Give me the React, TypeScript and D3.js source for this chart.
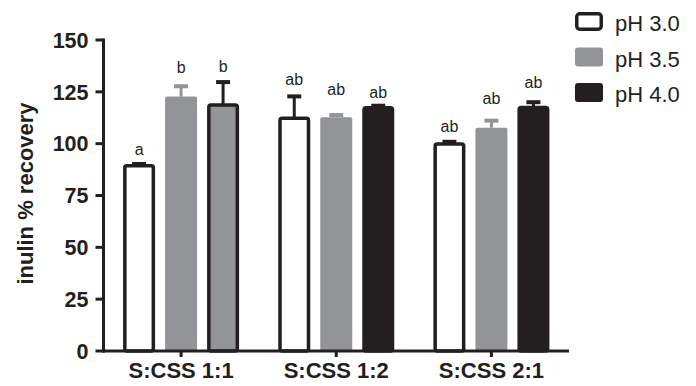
import React from "react";
import * as d3 from "d3";

const groups = ["S:CSS 1:1", "S:CSS 1:2", "S:CSS 2:1"];
const seriesNames = ["pH 3.0", "pH 3.5", "pH 4.0"];
const ph30 = [89.4, 112.2, 99.8];
const ph35 = [122.7, 112.7, 107.7];
const ph40 = [118.6, 117.3, 117.5];
const ph30Err = [0.8, 10.6, 1.1];
const ph35Err = [5.0, 1.1, 3.4];
const ph40Err = [11.1, 1.0, 2.5];
const ph30Letters = ["a", "ab", "ab"];
const ph35Letters = ["b", "ab", "ab"];
const ph40Letters = ["b", "ab", "ab"];
const ph30LetterY = [94.5, 128.3, 105.7];
const ph35LetterY = [134.3, 123.5, 119.1];
const ph40LetterY = [134.7, 121.9, 126.7];
const yTicks = [0, 25, 50, 75, 100, 125, 150];

const BLACK = "#231f20";
const GREY = "#929497";
const FONT = "'Liberation Sans', Arial, Helvetica, sans-serif";

export default function App() {
  const W = 696, H = 386;
  const x0 = 103.5, x1 = 569;
  const y = d3.scaleLinear().domain([0, 150]).range([351, 40]);
  const gx = d3.scaleBand().domain(groups).range([x0, x1]).padding(0);
  const sx = d3.scalePoint().domain(seriesNames).range([-42, 42]);
  const values = [ph30, ph35, ph40];
  const errs = [ph30Err, ph35Err, ph40Err];
  const letters = [ph30Letters, ph35Letters, ph40Letters];
  const letterY = [ph30LetterY, ph35LetterY, ph40LetterY];
  const barW = 32;
  const sw = 3.5;

  const styleFor = (si: number, gi: number) => {
    if (si === 0) return { fill: "#fff", stroke: BLACK, err: BLACK };
    if (si === 1) return { fill: GREY, stroke: "none", err: GREY };
    if (gi === 0) return { fill: GREY, stroke: BLACK, err: BLACK };
    return { fill: BLACK, stroke: BLACK, err: BLACK };
  };

  const bars: React.ReactNode[] = [];
  seriesNames.forEach((s, si) => {
    groups.forEach((g, gi) => {
      const cx = (gx(g) as number) + gx.bandwidth() / 2 + (sx(s) as number);
      const v = values[si][gi];
      const e = errs[si][gi];
      const st = styleFor(si, gi);
      const top = y(v);
      const capY = y(v + e);
      bars.push(
        <g key={`${si}-${gi}`}>
          <line x1={cx} x2={cx} y1={top} y2={capY} stroke={st.err} strokeWidth={3} />
          <rect x={cx - 7} y={capY - 2} width={14} height={4} fill={st.err} />
          {st.stroke === "none" ? (
            <rect x={cx - barW / 2} y={top} width={barW} height={y(0) - top} fill={st.fill} rx={2} />
          ) : (
            <rect
              x={cx - barW / 2 + sw / 2}
              y={top}
              width={barW - sw}
              height={y(0) - top}
              fill={st.fill}
              stroke={st.stroke}
              strokeWidth={sw}
              rx={2}
            />
          )}
          <text x={cx} y={y(letterY[si][gi])} textAnchor="middle" fontSize={16} fontFamily={FONT} fill={BLACK}>
            {letters[si][gi]}
          </text>
        </g>
      );
    });
  });

  return (
    <svg width={W} height={H} style={{ position: "absolute", left: 0, top: 0 }}>
      <rect width={W} height={H} fill="#fff" />
      {bars}
      {/* y axis */}
      <line x1={x0} x2={x0} y1={y(150) - 1.5} y2={y(0) + 1.5} stroke={BLACK} strokeWidth={3} />
      {yTicks.map((t) => (
        <g key={t}>
          <line x1={x0 - 8} x2={x0} y1={y(t)} y2={y(t)} stroke={BLACK} strokeWidth={3} />
          <text
            x={x0 - 15}
            y={y(t)}
            dy="0.36em"
            textAnchor="end"
            fontSize={21.5}
            fontWeight="bold"
            fontFamily={FONT}
            fill={BLACK}
          >
            {t}
          </text>
        </g>
      ))}
      {/* x axis */}
      <line x1={x0 - 1.5} x2={x1} y1={y(0)} y2={y(0)} stroke={BLACK} strokeWidth={3} />
      {groups.map((g) => {
        const cx = (gx(g) as number) + gx.bandwidth() / 2;
        return (
          <g key={g}>
            <line x1={cx} x2={cx} y1={y(0)} y2={y(0) + 6} stroke={BLACK} strokeWidth={3} />
            <text x={cx} y={377.5} textAnchor="middle" fontSize={22} fontWeight="bold" fontFamily={FONT} fill={BLACK}>
              {g}
            </text>
          </g>
        );
      })}
      <text
        transform="translate(33,193.5) rotate(-90)"
        textAnchor="middle"
        fontSize={22}
        fontWeight="bold"
        fontFamily={FONT}
        fill={BLACK}
      >
        inulin % recovery
      </text>
      {/* legend */}
      {seriesNames.map((s, i) => {
        const cy = 21.5 + i * 35.5;
        return (
          <g key={s}>
            {i === 0 ? (
              <rect x={575 + sw / 2} y={cy - 9.5 + sw / 2} width={28 - sw} height={19 - sw} fill="#fff" stroke={BLACK} strokeWidth={sw} rx={3} />
            ) : (
              <rect x={575} y={cy - 9.5} width={28} height={19} fill={i === 1 ? GREY : BLACK} rx={3} />
            )}
            <text x={615} y={cy + 9.5} fontSize={22} fontFamily={FONT} fill={BLACK}>
              {s}
            </text>
          </g>
        );
      })}
    </svg>
  );
}
